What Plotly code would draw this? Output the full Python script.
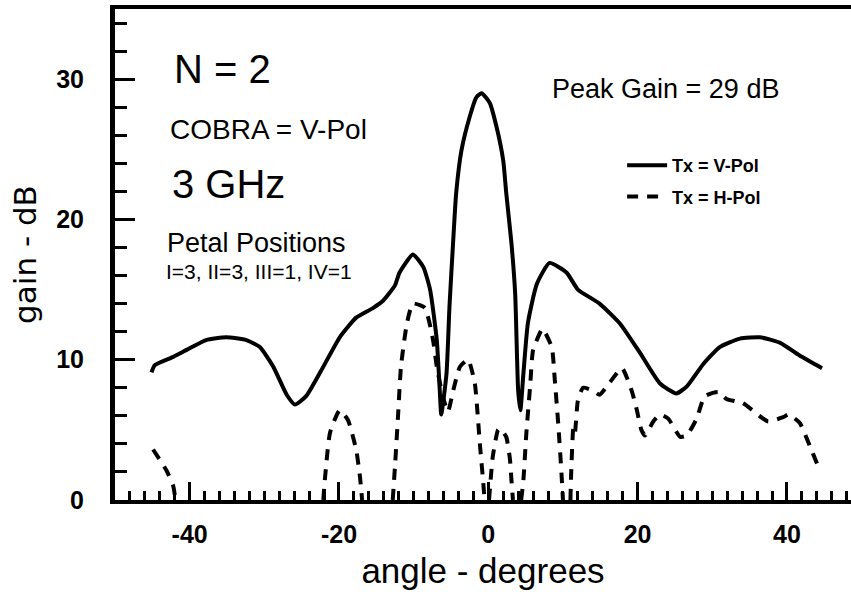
import plotly.graph_objects as go

# Radiation pattern, N = 2 COBRA antenna at 3 GHz
# Tx = V-Pol (solid)
vpol_angle = [-45.1, -44.7, -42.2, -40.4, -37.8, -35.1, -32.4, -30.6, -28.8, -27.0,
              -25.9, -24.4, -22.1, -19.9, -17.7, -15.4, -14.1, -12.5, -11.9, -10.1,
              -8.7, -7.8, -6.9, -6.5, -6.3, -5.6, -5.2, -4.7, -4.3, -3.6,
              -2.5, -1.6, -0.9, 0.2, 1.1, 2.0, 2.4, 3.1, 3.6, 4.0,
              4.3, 4.7, 5.3, 6.5, 8.2, 10.5, 12.0, 14.9, 17.6, 20.3,
              23.0, 25.2, 26.6, 28.8, 31.0, 33.7, 36.4, 39.1, 41.7, 44.7]
vpol_gain = [9.1, 9.6, 10.2, 10.7, 11.4, 11.6, 11.4, 10.9, 9.5, 7.5,
             6.8, 7.4, 9.5, 11.6, 13.0, 13.7, 14.2, 15.3, 16.2, 17.5,
             16.6, 15.0, 11.4, 7.8, 6.1, 9.0, 13.8, 18.5, 21.9, 24.9,
             27.3, 28.7, 29.0, 28.3, 26.6, 24.2, 21.9, 18.3, 14.7, 7.8,
             6.4, 9.0, 12.6, 15.4, 16.9, 16.2, 15.0, 14.0, 12.6, 10.5,
             8.3, 7.6, 8.1, 9.7, 10.9, 11.5, 11.6, 11.2, 10.3, 9.4]

# Tx = H-Pol (dashed); None separates the lobes that drop below 0 dB
hpol_angle = [-44.9, -43.1, -42.2, -41.9, None,
              -22.1, -21.9, -21.2, -19.9, -18.8, -17.7, -17.2, -16.9, None,
              -12.8, -12.5, -12.1, -11.7, -10.9, -10.1, -8.5, -7.4, -6.9, -6.1,
              -5.4, -4.7, -3.8, -2.7, -1.8, -1.4, -1.1, -0.7, -0.5, None,
              0.1, 0.6, 1.3, 1.6, 2.4, 2.9, 3.1, 3.3, None,
              4.4, 4.7, 5.1, 5.6, 6.0, 7.1, 7.3, 8.5, 8.9, 9.4, 9.8, 10.0, None,
              11.0, 11.1, 11.4, 11.6, 12.0, 12.7, 14.0, 14.9, 16.3, 17.9,
              19.2, 19.9, 20.5, 21.0, 22.1, 23.0, 24.1, 25.7, 26.6, 27.9,
              29.0, 30.8, 31.9, 34.1, 36.8, 37.5, 39.5, 40.2, 41.7, 43.1, 44.4]
hpol_gain = [3.6, 2.1, 1.0, 0.0, None,
             0.0, 1.4, 4.8, 6.4, 5.7, 3.6, 1.7, 0.0, None,
             0.0, 2.4, 5.9, 9.5, 12.6, 14.0, 13.7, 11.4, 9.5, 7.4,
             6.3, 7.8, 9.5, 10.0, 8.3, 5.9, 3.8, 1.4, 0.0, None,
             0.0, 3.1, 5.0, 5.1, 4.5, 2.9, 1.4, 0.0, None,
             0.0, 1.4, 4.8, 8.1, 10.7, 12.1, 12.2, 10.9, 8.6, 5.2, 1.9, 0.0, None,
             0.0, 1.9, 5.2, 4.8, 7.1, 8.0, 7.8, 7.5, 8.4, 9.4,
             7.8, 6.4, 5.0, 4.6, 5.6, 6.1, 5.8, 4.5, 4.6, 5.8,
             7.4, 7.7, 7.2, 6.9, 5.8, 5.6, 5.9, 6.1, 5.5, 3.8, 2.1]

# Axis ticks and labels
x_tickvals = [-40, -30, -20, -10, 0, 10, 20, 30, 40]
x_ticktext = ["-40", "", "-20", "", "0", "", "20", "", "40"]
x_minor = list(range(-50, 50, 2))
y_tickvals = [0, 10, 20, 30]
y_ticktext = ["0", "10", "20", "30"]
y_minor = list(range(0, 36, 2))

FONT = "Liberation Sans, Arial, sans-serif"
BLACK = "#000000"

fig = go.Figure()
fig.add_trace(go.Scatter(
    x=vpol_angle, y=vpol_gain, mode="lines", name="Tx = V-Pol",
    legendgroup="v",
    line=dict(color=BLACK, width=4, shape="spline", smoothing=0.5),
))
fig.add_trace(go.Scatter(
    x=hpol_angle, y=hpol_gain, mode="lines", name="Tx = H-Pol",
    legendgroup="h", connectgaps=False,
    line=dict(color=BLACK, width=4, dash="11px,9px", shape="spline", smoothing=0.5),
))

notes = [
    ("N = 2", -42.4, 30.7, 40),
    ("COBRA = V-Pol", -42.9, 26.4, 28),
    ("3 GHz", -42.6, 22.5, 40),
    ("Petal Positions", -43.3, 18.3, 27),
    ("I=3, II=3, III=1, IV=1", -43.5, 16.3, 21),
    ("Peak Gain = 29 dB", 8.2, 29.3, 27),
]
for text, ax, ay, size in notes:
    fig.add_annotation(
        x=ax, y=ay, xref="x", yref="y", text=text, showarrow=False,
        xanchor="left", yanchor="middle",
        font=dict(family=FONT, size=size, color=BLACK),
    )

fig.update_layout(
    width=851, height=599,
    margin=dict(l=115, r=0, t=9, b=99),
    paper_bgcolor="white", plot_bgcolor="white",
    showlegend=True,
    legend=dict(
        x=0.689, y=0.719, xanchor="left", yanchor="top",
        bgcolor="rgba(0,0,0,0)", borderwidth=0,
        font=dict(family=FONT, size=18, color=BLACK, weight="bold"),
        itemwidth=40, tracegroupgap=5, traceorder="grouped",
    ),
    xaxis=dict(
        range=[-50, 48.58], showgrid=False, zeroline=False,
        showline=True, linecolor=BLACK, linewidth=4, mirror=True,
        tickmode="array", tickvals=x_tickvals, ticktext=x_ticktext,
        ticks="inside", ticklen=18, tickwidth=3, tickcolor=BLACK,
        ticklabelstandoff=9,
        tickfont=dict(family=FONT, size=25, color=BLACK, weight="bold"),
        minor=dict(tickmode="array", tickvals=x_minor, ticks="inside",
                   ticklen=9, tickwidth=2.5, tickcolor=BLACK, showgrid=False),
        title=dict(text="angle - degrees", standoff=12,
                   font=dict(family=FONT, size=35, color=BLACK)),
    ),
    yaxis=dict(
        range=[0, 35], showgrid=False, zeroline=False,
        showline=True, linecolor=BLACK, linewidth=5, mirror=False,
        tickmode="array", tickvals=y_tickvals, ticktext=y_ticktext,
        ticks="inside", ticklen=20, tickwidth=3, tickcolor=BLACK,
        ticklabelstandoff=21,
        tickfont=dict(family=FONT, size=25, color=BLACK, weight="bold"),
        minor=dict(tickmode="array", tickvals=y_minor, ticks="inside",
                   ticklen=12, tickwidth=2.5, tickcolor=BLACK, showgrid=False),
        title=dict(text="gain - dB", standoff=12,
                   font=dict(family="DejaVu Sans, " + FONT, size=31, color=BLACK)),
    ),
)

fig.write_html("out.html")
